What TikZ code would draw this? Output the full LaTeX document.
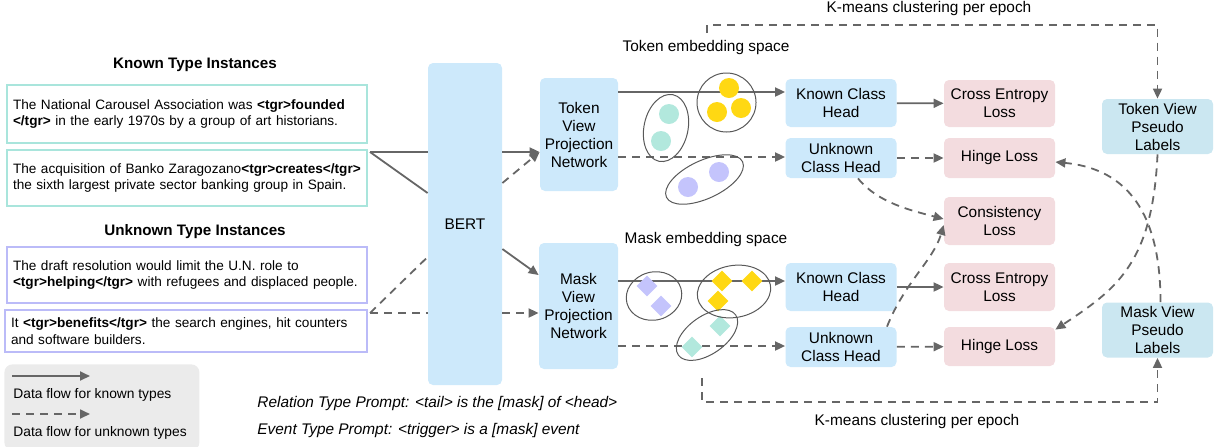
\documentclass[tikz,border=0pt]{standalone}
\usepackage{fontspec}
\setmainfont{Liberation Sans}
\usetikzlibrary{arrows.meta,positioning,calc,shapes.geometric}

\definecolor{boxblue}{HTML}{CDE9FB}
\definecolor{losspink}{HTML}{F3DCDF}
\definecolor{pseudoblue}{HTML}{CBE7F1}
\definecolor{tealdot}{HTML}{B2E8DD}
\definecolor{golddot}{HTML}{FFD813}
\definecolor{lavdot}{HTML}{C4C4FC}
\definecolor{flow}{HTML}{666666}
\definecolor{knownedge}{HTML}{A9E5DC}
\definecolor{unknownedge}{HTML}{BBBBF8}
\definecolor{legendgray}{HTML}{EBEBEB}

\begin{document}
\begin{tikzpicture}[x=0.5pt,y=-0.5pt,
    font=\fontsize{7.7}{9}\selectfont,
    blk/.style={rounded corners=2.5pt,fill=boxblue,align=center,inner sep=1pt},
    head/.style={blk,minimum width=55.5pt},
    loss/.style={blk,fill=losspink,minimum width=55.5pt},
    pseudo/.style={blk,fill=pseudoblue,minimum width=55.5pt,minimum height=27.5pt},
    sent/.style={draw=#1,line width=0.75pt,text width=174pt,align=left,inner sep=3pt,
      font=\fontsize{6.8}{8.3}\selectfont},
    ttl/.style={font=\fontsize{7.6}{9}\selectfont\bfseries},
    known/.style={draw=flow,line width=0.9pt,-{Triangle[length=5pt,width=4.5pt]}},
    unknown/.style={known,dash pattern=on 4pt off 3pt},
    grp/.style={draw=black!65,line width=0.5pt},
    dot/.style={circle,fill=#1,minimum size=10pt,inner sep=0pt},
    gem/.style={diamond,aspect=1,fill=#1,minimum size=10.5pt,inner sep=0pt}]
\useasboundingbox (0,0) rectangle (1218,446);

% input sentences
\node[ttl] (t1) at (195,65) {Known Type Instances};
\node[sent=knownedge,minimum height=29pt] (s1) at (187,114)
  {The National Carousel Association was \textbf{<tgr>founded}\\\textbf{</tgr>} in the early 1970s by a group of art historians.};
\node[sent=knownedge,minimum height=28pt] (s2) at (187,178)
  {The acquisition of Banko Zaragozano\textbf{<tgr>creates</tgr>}\\the sixth largest private sector banking group in Spain.};
\node[ttl] (t2) at (195,232) {Unknown Type Instances};
\node[sent=unknownedge,minimum height=28pt] (s3) at (187,275)
  {The draft resolution would limit the U.N. role to\\\textbf{<tgr>helping</tgr>} with refugees and displaced people.};
\node[sent=unknownedge,minimum height=21pt,text width=175pt] (s4) at (186,331)
  {It \textbf{<tgr>benefits</tgr>} the search engines, hit counters\\and software builders.};

% encoder and projections
\node[blk,minimum width=37pt,minimum height=161pt] (bert) at (465,224) {BERT};
\node[blk,minimum width=39pt,minimum height=56.5pt] (tpn) at (579,134.5) {Token\\View\\Projection\\Network};
\node[blk,minimum width=39.5pt,minimum height=63pt] (mpn) at (578.5,306) {Mask\\View\\Projection\\Network};

\node (tes) at (706,48) {Token embedding space};
\node (mes) at (706,240) {Mask embedding space};

\node[head,minimum height=24pt] (kh1) at (841,103) {Known Class\\Head};
\node[head,minimum height=20pt] (uh1) at (841,158) {Unknown\\Class Head};
\node[head,minimum height=24pt] (kh2) at (841,287) {Known Class\\Head};
\node[head,minimum height=20pt] (uh2) at (841,347) {Unknown\\Class Head};

\node[loss,minimum height=23.5pt] (ce1) at (999.5,103.5) {Cross Entropy\\Loss};
\node[loss,minimum height=20pt] (hl1) at (999.5,158) {Hinge Loss};
\node[loss,minimum height=24pt] (cons) at (999.5,221) {Consistency\\Loss};
\node[loss,minimum height=24pt] (ce2) at (999.5,287) {Cross Entropy\\Loss};
\node[loss,minimum height=19.5pt] (hl2) at (999.5,346.5) {Hinge Loss};

\node[pseudo] (tpl) at (1157.5,126.5) {Token View\\Pseudo\\Labels};
\node[pseudo] (mpl) at (1157.5,330) {Mask View\\Pseudo\\Labels};

\node (km1) at (929,9) {K-means clustering per epoch};
\node (km2) at (917,422) {K-means clustering per epoch};

% into BERT
\coordinate (jk) at (370,152);
\coordinate (ju) at (370,313);
\draw[draw=flow,line width=0.9pt] (jk) -- (jk -| bert.west);
\draw[draw=flow,line width=0.9pt] (jk) -- ([yshift=15.5pt]bert.west);
\draw[unknown,-] (ju) -- (ju -| bert.west);
\draw[unknown,-] (ju) -- ([yshift=-16.5pt]bert.west);
\draw[known] (jk -| bert.east) -- (jk -| tpn.west);
\draw[unknown] ([yshift=20.5pt]bert.east) -- (jk -| tpn.west);
\draw[known] ([yshift=-12.5pt]bert.east) -- ([yshift=15.5pt]mpn.west);
\draw[unknown] (ju -| bert.east) -- (ju -| mpn.west);

% projections to heads
\draw[known] ([yshift=21.25pt]tpn.east) -- ([yshift=21.25pt]tpn.east -| kh1.west);
\draw[unknown] ([yshift=-11.25pt]tpn.east) -- ([yshift=-11.25pt]tpn.east -| uh1.west);
\draw[known] ([yshift=12.5pt]mpn.east) -- ([yshift=12.5pt]mpn.east -| kh2.west);
\draw[unknown] ([yshift=-20pt]mpn.east) -- ([yshift=-20pt]mpn.east -| uh2.west);

% heads to losses
\draw[known] (kh1) -- (ce1);
\draw[unknown] (uh1) -- (hl1);
\draw[known] (kh2) -- (ce2);
\draw[unknown] (uh2) -- (hl2);
\draw[unknown] ([xshift=8.5pt]uh1.south) .. controls +(20,25) and +(-30,-8) .. ([yshift=1pt]cons.west);
\draw[unknown] ([xshift=23pt]uh2.north) .. controls +(18,-45) and +(-10,35) .. ([yshift=-2pt]cons.west);

% pseudo labels
\coordinate (kt) at (707,25);
\draw[unknown] (707,33) -- (kt) -| (tpl.north);
\coordinate (kb) at (702,402);
\draw[unknown] (702,378) -- (kb) -| (mpl.south);
\draw[unknown] (tpl.south) .. controls +(-5,110) and +(60,-40) .. ([yshift=-1.5pt]hl2.north east);
\draw[unknown] ([xshift=1.5pt]mpl.north) .. controls +(0,-100) and +(63,6) .. ([yshift=-2pt]hl1.east);

% token embedding space
\foreach \x/\y [count=\i] in {669/114,661/141} \node[dot=tealdot] (ta\i) at (\x,\y) {};
\foreach \x/\y [count=\i] in {729/88,717/112,741/108} \node[dot=golddot] (tb\i) at (\x,\y) {};
\foreach \x/\y [count=\i] in {688/187,719/172} \node[dot=lavdot] (tc\i) at (\x,\y) {};
\draw[grp,rotate around={-12:(666,128)}] (666,128) ellipse (22 and 34);
\draw[grp] (726.5,102.5) ellipse (29.5 and 29.5);
\draw[grp,rotate around={25:(704.5,179.5)}] (704.5,179.5) ellipse (42 and 19);

% mask embedding space
\foreach \x/\y [count=\i] in {647/286,661/306} \node[gem=lavdot] (ma\i) at (\x,\y) {};
\foreach \x/\y [count=\i] in {722/281,752/281,718/301} \node[gem=golddot] (mb\i) at (\x,\y) {};
\foreach \x/\y [count=\i] in {720/326,692/347} \node[gem=tealdot] (mc\i) at (\x,\y) {};
\draw[grp,rotate around={15:(654,296)}] (654,296) ellipse (28 and 24);
\draw[grp,rotate around={10:(734,291.5)}] (734,291.5) ellipse (37 and 26);
\draw[grp,rotate around={35:(707,335)}] (707,335) ellipse (35 and 19);

% legend and prompts
\node[fill=legendgray,rounded corners=4pt,minimum width=97.5pt,minimum height=43pt,inner sep=0pt,anchor=north west] (lg) at (4,364) {};
\draw[known] ([shift={(4pt,-6pt)}]lg.north west) -- ++(39pt,0);
\draw[unknown] ([shift={(4pt,-25pt)}]lg.north west) -- ++(39pt,0);
\node[anchor=west,inner sep=0pt,font=\fontsize{6.9}{8}\selectfont] (lk) at (13,395) {Data flow for known types};
\node[anchor=west,inner sep=0pt,font=\fontsize{6.9}{8}\selectfont] (lu) at (13,433) {Data flow for unknown types};
\node[anchor=west,inner sep=0pt,font=\fontsize{7.7}{9}\itshape] (rp) at (257,404) {Relation Type Prompt: <tail> is the [mask] of <head>};
\node[anchor=west,inner sep=0pt,font=\fontsize{7.7}{9}\itshape] (ep) at (257,431) {Event Type Prompt: <trigger> is a [mask] event};
\end{tikzpicture}
\end{document}
